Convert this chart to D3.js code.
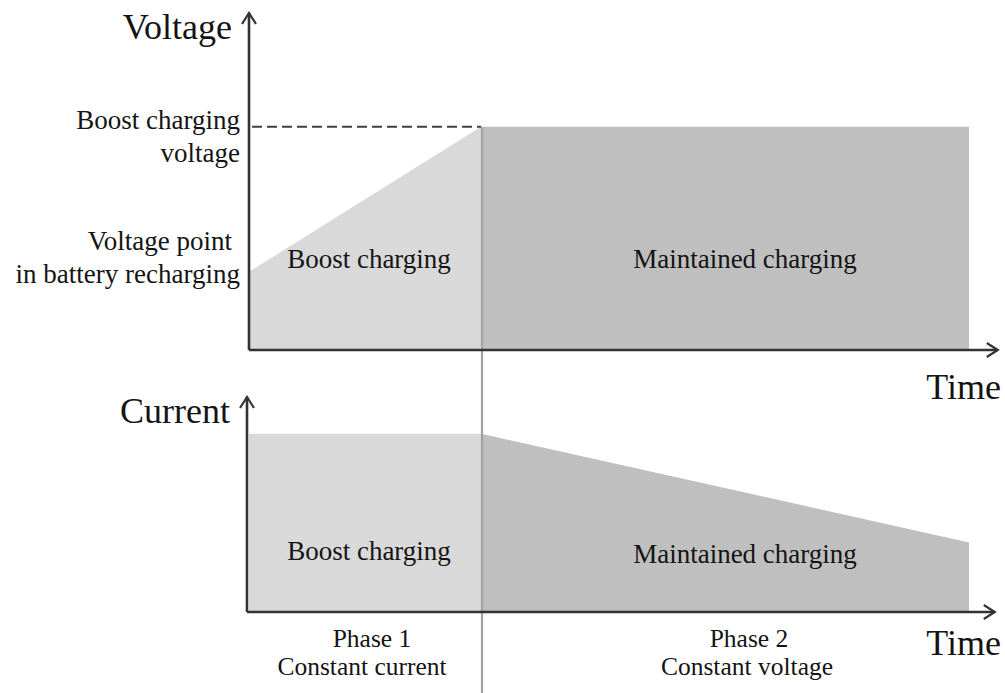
<!DOCTYPE html>
<html><head><meta charset="utf-8">
<script src="https://cdn.jsdelivr.net/npm/d3@7"></script>
<style>
body{margin:0;background:#fff}
svg text{font-family:"Liberation Serif","Times New Roman",serif !important;fill:#141414}
</style>
</head><body>
<svg id="c" width="1005" height="693"></svg>
<script>
// ---------- data ----------
const timePoints = [0, 29, 90];            // start, phase boundary, end (arbitrary units)
const voltageValues = [0.7, 2.0, 2.0];     // voltage at those times
const currentValues = [1.0, 1.0, 0.39];    // current at those times
const voltageTicks = [0.7, 2.0];
const voltageTickLabels = [["Voltage point", "in battery recharging"], ["Boost charging", "voltage"]];
const phaseNames = ["Boost charging", "Maintained charging"];
const phaseLabels = [["Phase 1", "Constant current"], ["Phase 2", "Constant voltage"]];
const voltageTitle = "Voltage";
const currentTitle = "Current";
const timeTitle = "Time";

// ---------- scales ----------
const x = d3.scaleLinear().domain([0, 90]).range([249, 969]);
const xEnd = 93.6;
const yV = d3.scaleLinear().domain([0, 3]).range([350, 15]);
const yI = d3.scaleLinear().domain([0, 1.2]).range([612, 398]);

const svg = d3.select("#c");
const defs = svg.append("defs");
defs.append("marker").attr("id", "arr")
  .attr("markerUnits", "userSpaceOnUse").attr("viewBox", "-15 -15 30 30")
  .attr("markerWidth", 30).attr("markerHeight", 30).attr("refX", 0).attr("refY", 0)
  .attr("orient", "auto")
  .append("path").attr("d", "M-11,-7L0,0L-11,7").attr("fill", "none")
  .attr("stroke", "#333").attr("stroke-width", 2.2);

const lightFill = "#d9d9d9", darkFill = "#bfbfbf";

function segs(vals) {
  return [
    [{t: timePoints[0], v: vals[0]}, {t: timePoints[1], v: vals[1]}],
    [{t: timePoints[1], v: vals[1]}, {t: timePoints[2], v: vals[2]}]
  ];
}
const areaV = d3.area().x(d => x(d.t)).y0(yV(0)).y1(d => yV(d.v));
const areaI = d3.area().x(d => x(d.t)).y0(yI(0)).y1(d => yI(d.v));

svg.append("g").selectAll("path").data(segs(voltageValues)).join("path")
  .attr("d", areaV).attr("fill", (d, i) => i ? darkFill : lightFill);
svg.append("g").selectAll("path").data(segs(currentValues)).join("path")
  .attr("d", areaI).attr("fill", (d, i) => i ? darkFill : lightFill);

// dashed boost voltage line
svg.append("line")
  .attr("x1", x(0) + 3).attr("x2", x(timePoints[1]))
  .attr("y1", yV(voltageValues[1])).attr("y2", yV(voltageValues[1]))
  .attr("stroke", "#404040").attr("stroke-width", 2).attr("stroke-dasharray", "10,5");

// phase boundary line
svg.append("line")
  .attr("x1", x(timePoints[1]) + 1).attr("x2", x(timePoints[1]) + 1)
  .attr("y1", yV(voltageValues[1])).attr("y2", 693)
  .attr("stroke", "#a3a3a3").attr("stroke-width", 2.2);

// axes with arrows
const axStroke = "#333";
function arrowLine(x1, y1, x2, y2) {
  svg.append("line").attr("x1", x1).attr("y1", y1).attr("x2", x2).attr("y2", y2)
    .attr("stroke", axStroke).attr("stroke-width", 2.6).attr("marker-end", "url(#arr)");
}
arrowLine(x(0), yV(0), x(0), yV(3) - 2);
arrowLine(x(0), yV(0), x(xEnd), yV(0));
arrowLine(x(0) - 2, yI(0), x(0) - 2, yI(1.2) - 1);
arrowLine(x(0) - 2, yI(0), x(xEnd) - 3, yI(0));

// voltage tick labels via d3 axis
const gAx = svg.append("g").attr("transform", `translate(${x(0)},0)`)
  .call(d3.axisLeft(yV).tickValues(voltageTicks).tickSize(0).tickPadding(9).tickFormat(""));
gAx.select(".domain").remove();
gAx.attr("font-family", null);
const tickDy = [-22, 2];
gAx.selectAll(".tick text").each(function(d, i) {
  const t = d3.select(this).attr("font-size", 27).attr("fill", "#141414")
    .attr("dy", null).attr("y", tickDy[i]);
  voltageTickLabels[i].forEach((s, j) => {
    t.append("tspan").attr("x", -9 - (i === 0 && j === 0 ? 8 : 0)).attr("dy", j ? 33 : 0).text(s);
  });
});

// axis titles
svg.append("text").attr("x", x(0) - 17).attr("y", 39).attr("text-anchor", "end")
  .attr("font-size", 36).text(voltageTitle);
svg.append("text").attr("x", x(0) - 19).attr("y", 423).attr("text-anchor", "end")
  .attr("font-size", 36).text(currentTitle);
svg.append("text").attr("x", 1001).attr("y", 399).attr("text-anchor", "end")
  .attr("font-size", 36).text(timeTitle);
svg.append("text").attr("x", 1001).attr("y", 655).attr("text-anchor", "end")
  .attr("font-size", 36).text(timeTitle);

// phase names inside areas
const nameX = [x((timePoints[0] + timePoints[1]) / 2) + 4, x((timePoints[1] + timePoints[2]) / 2) + 20];
phaseNames.forEach((n, i) => {
  svg.append("text").attr("x", nameX[i]).attr("y", 268).attr("text-anchor", "middle")
    .attr("font-size", 27).text(n);
  svg.append("text").attr("x", nameX[i]).attr("y", i ? 563 : 560).attr("text-anchor", "middle")
    .attr("font-size", 27).text(n);
});

// phase labels below
const phaseX = [[372, 362], [749, 747]];
phaseLabels.forEach((lines, i) => {
  lines.forEach((s, j) => {
    svg.append("text").attr("x", phaseX[i][j]).attr("y", 647 + j * 28).attr("text-anchor", "middle")
      .attr("font-size", 25.5).text(s);
  });
});
</script>
</body></html>
